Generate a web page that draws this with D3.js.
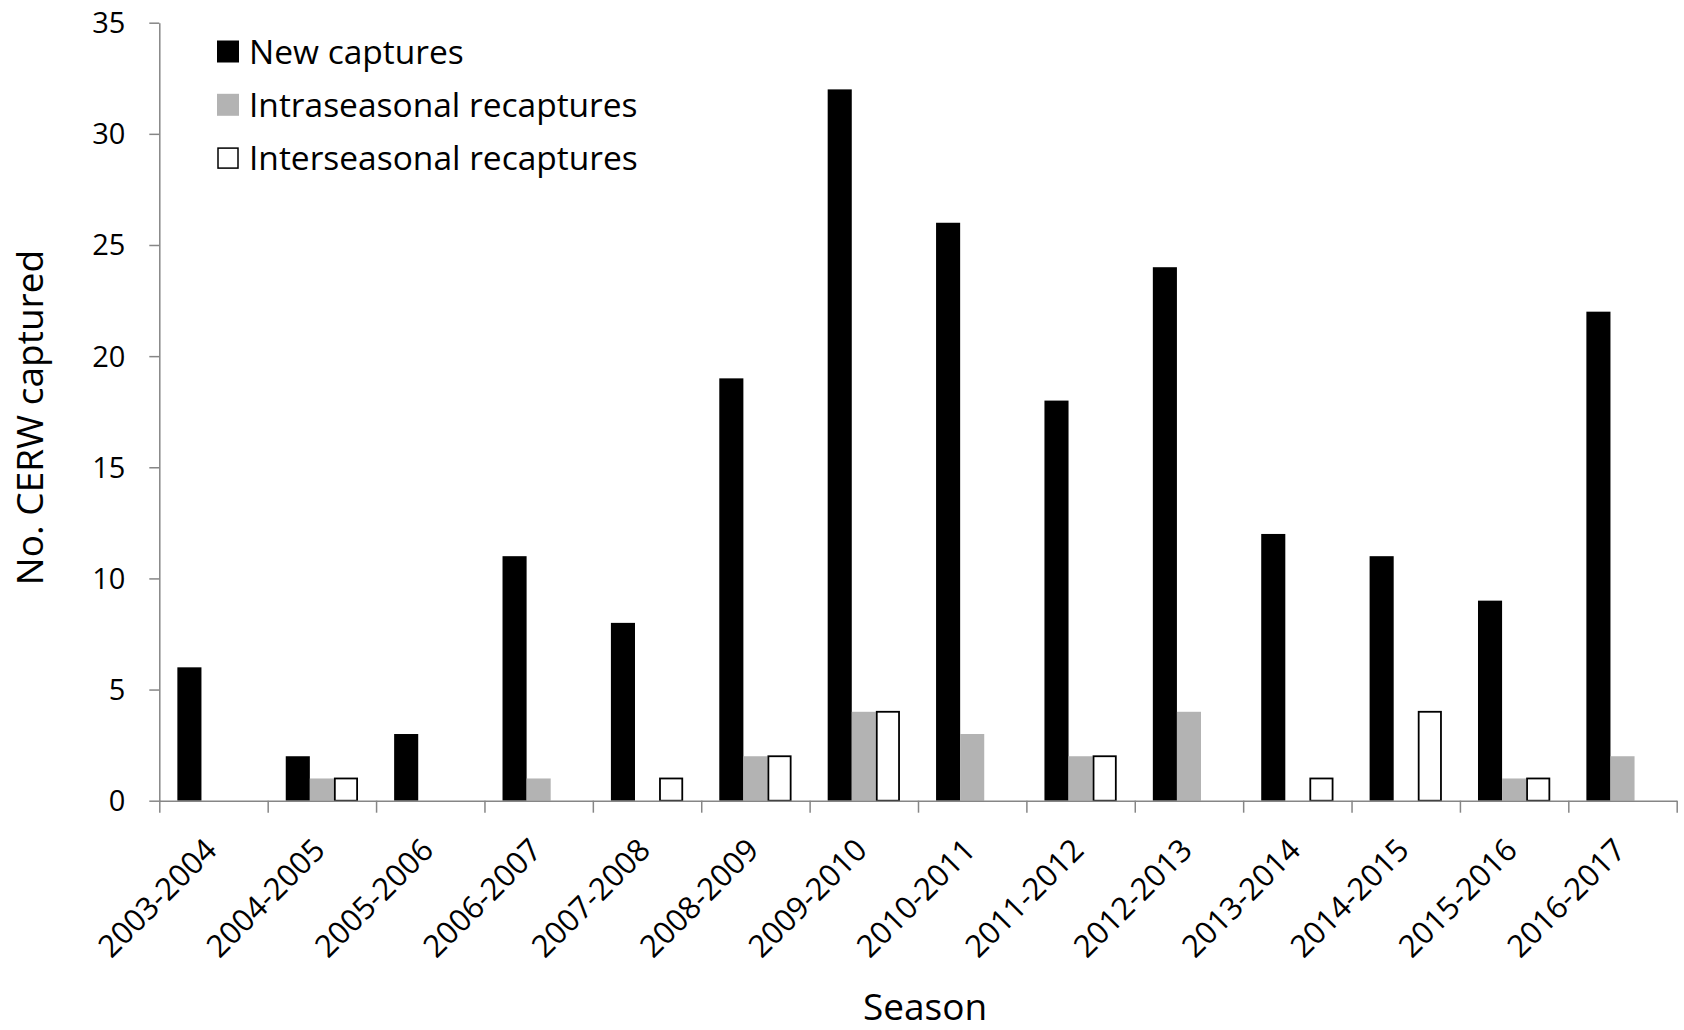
<!DOCTYPE html>
<html>
<head>
<meta charset="utf-8">
<script src="https://cdn.jsdelivr.net/npm/d3@7"></script>
<style>
  body { margin: 0; background: #fff; }
  text { font-family: "Open Sans", sans-serif; fill: #000; }
</style>
</head>
<body>
<script>
// capture counts by season
let seasons = ['2003-2004', '2004-2005', '2005-2006', '2006-2007', '2007-2008', '2008-2009', '2009-2010',
  '2010-2011', '2011-2012', '2012-2013', '2013-2014', '2014-2015', '2015-2016', '2016-2017']
let newCaptures = [6, 2, 3, 11, 8, 19, 32, 26, 18, 24, 12, 11, 9, 22]
let intraRecaptures = [0, 1, 0, 1, 0, 2, 4, 3, 2, 4, 0, 0, 1, 2]
let interRecaptures = [0, 1, 0, 0, 1, 2, 4, 0, 2, 0, 1, 4, 1, 0]
let seriesNames = ['New captures', 'Intraseasonal recaptures', 'Interseasonal recaptures']
let yTicks = [0, 5, 10, 15, 20, 25, 30, 35]

let chartW = 1684
let chartH = 1030
let plotL = 159.3, plotR = 1676.7, plotT = 22.7, plotB = 800.7

let fills = ['#000000', '#b3b3b3', '#ffffff']
let strokes = ['none', 'none', '#000000']

let rows = seasons.map(function (s, i) {
  return {season: s, values: [newCaptures[i], intraRecaptures[i], interRecaptures[i]]}
})

let svg = d3.select('body').append('svg')
  .attr('width', chartW)
  .attr('height', chartH)

let y = d3.scaleLinear().domain([0, 35]).range([plotB, plotT])
// Excel-like gap width of 150%: 3 bars + 1.5 bar of gap per category
let x0 = d3.scaleBand().domain(seasons).range([plotL, plotR])
  .paddingInner(1 / 3).paddingOuter(1 / 6)
let x1 = d3.scaleBand().domain(d3.range(3)).range([0, x0.bandwidth()])
let xEdge = d3.scaleLinear().domain([0, seasons.length]).range([plotL, plotR])

// bars
let groups = svg.selectAll('g.season')
  .data(rows)
  .enter()
  .append('g')
  .attr('class', 'season')
  .attr('transform', function (d) { return 'translate(' + x0(d.season) + ',0)' })

groups.selectAll('rect')
  .data(function (d) { return d.values.map(function (v, k) { return {k: k, v: v} }).filter(function (e) { return e.v > 0 }) })
  .enter()
  .append('rect')
  .attr('x', function (d) { return x1(d.k) + (d.k === 2 ? 0.9 : 0) })
  .attr('y', function (d) { return y(d.v) })
  .attr('width', function (d) { return x1.bandwidth() - (d.k === 2 ? 1.8 : 0) })
  .attr('height', function (d) { return y(0) - y(d.v) })
  .style('fill', function (d) { return fills[d.k] })
  .style('stroke', function (d) { return strokes[d.k] })
  .style('stroke-width', 1.8)

// axes
let yAxis = svg.append('g')
  .attr('transform', 'translate(' + plotL + ',0)')
  .call(d3.axisLeft(y).tickValues(yTicks).tickSize(10).tickSizeOuter(0).tickPadding(24))
yAxis.selectAll('text').style('font-size', '29px').attr('dy', '0.34em')

let xAxis = svg.append('g')
  .attr('transform', 'translate(0,' + plotB + ')')
  .call(d3.axisBottom(xEdge).tickValues(d3.range(seasons.length + 1)).tickSize(12).tickSizeOuter(0).tickFormat(''))

svg.selectAll('.domain, .tick line')
  .style('stroke', '#868686')
  .style('stroke-width', 1.5)

// category labels
svg.append('g').selectAll('text')
  .data(seasons)
  .enter()
  .append('text')
  .attr('transform', function (d) { return 'translate(' + (x0(d) + x0.bandwidth() / 2 + 5) + ',852) rotate(-45)' })
  .attr('text-anchor', 'end')
  .style('font-size', '31px')
  .text(function (d) { return d })

// axis titles
svg.append('text')
  .attr('transform', 'translate(43,417.5) rotate(-90)')
  .attr('text-anchor', 'middle')
  .style('font-size', '37px')
  .text('No. CERW captured')

svg.append('text')
  .attr('x', 925)
  .attr('y', 1020)
  .attr('text-anchor', 'middle')
  .style('font-size', '37px')
  .text('Season')

// legend
let legend = svg.append('g').selectAll('g')
  .data(seriesNames)
  .enter()
  .append('g')
  .attr('transform', function (d, i) { return 'translate(217,' + (51.5 + i * 53.3) + ')' })

legend.append('rect')
  .attr('x', function (d, i) { return i === 2 ? 1 : 0 })
  .attr('y', function (d, i) { return i === 2 ? -10 : -11 })
  .attr('width', function (d, i) { return i === 2 ? 20 : 22 })
  .attr('height', function (d, i) { return i === 2 ? 20 : 22 })
  .style('fill', function (d, i) { return fills[i] })
  .style('stroke', function (d, i) { return strokes[i] })
  .style('stroke-width', 1.5)

legend.append('text')
  .attr('x', 32)
  .attr('y', 12)
  .style('font-size', '33.5px')
  .text(function (d) { return d })
</script>
</body>
</html>
